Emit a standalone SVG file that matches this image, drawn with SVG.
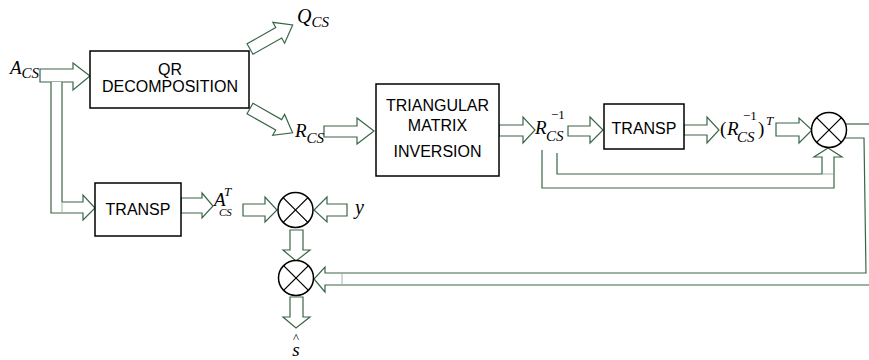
<svg xmlns="http://www.w3.org/2000/svg" width="869" height="360" viewBox="0 0 869 360">
<style>
.arr{fill:#fff;stroke:#3a6547;stroke-width:1.2;stroke-linejoin:miter}
.ln{fill:none;stroke:#3a6547;stroke-width:1.2}
.jt{stroke:#c3d2c6;stroke-width:1.6}
.box{fill:#fff;stroke:#000;stroke-width:1.5}
.mul{fill:#fff;stroke:#000;stroke-width:1.5}
.x{stroke:#000;stroke-width:1.3}
.lbl{font-family:"Liberation Sans",Arial,sans-serif;font-size:16px;text-anchor:middle;fill:#000}
.m{font-family:"Liberation Serif","Times New Roman",serif;font-style:italic;fill:#000}
.n{font-family:"Liberation Serif","Times New Roman",serif;fill:#000}
</style>
<rect width="869" height="360" fill="#fff"/>
<g id="connectors">
  <path class="arr" d="M40,69 L73,69 L73,63 L90,76 L73,90 L73,82 L40,82 Z"/>
  <path class="arr" d="M62,82 L62,202 L83,202 L83,195 L95,208 L83,220 L83,213 L51,213 L51,82"/>
  <line class="jt" x1="62" y1="203" x2="62" y2="212"/>
  <path class="arr" transform="translate(250,49) rotate(-29.5)" d="M0,-6 L33,-6 L33,-12 L49,0 L33,12 L33,6 L0,6 Z"/>
  <path class="arr" transform="translate(250,108.5) rotate(29.7)" d="M0,-6 L33,-6 L33,-12 L49,0 L33,12 L33,6 L0,6 Z"/>
  <path class="arr" d="M324,126 L357,126 L357,118 L374,131 L357,144 L357,137 L324,137 Z"/>
  <path class="arr" d="M499,125 L523,125 L523,117 L535,130 L523,143 L523,136 L499,136 Z"/>
  <path class="arr" d="M568,126 L590,126 L590,117 L603,130 L590,143 L590,136 L568,136 Z"/>
  <path class="arr" d="M684,125 L707,125 L707,117 L719,130 L707,143 L707,135 L684,135 Z"/>
  <path class="arr" d="M776,123 L799,123 L799,118 L812,130 L799,143 L799,136 L776,136 Z"/>
  <path class="arr" d="M557,153 L557,174 L822,174 L822,157 L814,157 L828,148 L842,157 L834,157 L834,188 L542,188 L542,150"/>
  <line class="jt" x1="823" y1="174" x2="833" y2="174"/>
  <line class="ln" x1="846" y1="124" x2="869" y2="124"/>
  <path class="arr" d="M869,285 L325,285 L325,292 L314,279 L325,267 L325,273 L866,273 L864,138 L843,138"/>
  <line class="jt" x1="342" y1="274" x2="342" y2="284"/>
  <path class="arr" d="M181,198 L202,198 L202,193 L213,206 L202,218 L202,213 L181,213 Z"/>
  <path class="arr" d="M243,204 L265,204 L265,197 L277,210 L265,222 L265,216 L243,216 Z"/>
  <path class="arr" d="M347,204 L327,204 L327,197 L314,210 L327,222 L327,216 L347,216 Z"/>
  <path class="arr" d="M290,230 L303,230 L303,250 L310,250 L296,261 L283,250 L290,250 Z"/>
  <path class="arr" d="M290,297 L303,297 L303,317 L310,317 L296,328 L283,317 L290,317 Z"/>
</g>
<g id="qr">
  <rect class="box" x="90" y="51" width="159" height="57"/>
  <text class="lbl" x="170" y="75">QR</text>
  <text class="lbl" x="170" y="92">DECOMPOSITION</text>
</g>
<g id="tri">
  <rect class="box" x="376" y="84" width="123" height="92"/>
  <text class="lbl" x="437.5" y="111">TRIANGULAR</text>
  <text class="lbl" x="437.5" y="131">MATRIX</text>
  <text class="lbl" x="437.5" y="157">INVERSION</text>
</g>
<g id="transp1">
  <rect class="box" x="604" y="104" width="80" height="45"/>
  <text class="lbl" x="644" y="134">TRANSP</text>
</g>
<g id="transp2">
  <rect class="box" x="95" y="183" width="86" height="53"/>
  <text class="lbl" x="138" y="215">TRANSP</text>
</g>
<g id="mul1">
  <circle class="mul" cx="829" cy="130" r="17.5"/>
  <line class="x" x1="816.6" y1="117.6" x2="841.4" y2="142.4"/>
  <line class="x" x1="841.4" y1="117.6" x2="816.6" y2="142.4"/>
</g>
<g id="mul2">
  <circle class="mul" cx="295.5" cy="210" r="17.5"/>
  <line class="x" x1="283.1" y1="197.6" x2="307.9" y2="222.4"/>
  <line class="x" x1="307.9" y1="197.6" x2="283.1" y2="222.4"/>
</g>
<g id="mul3">
  <circle class="mul" cx="296" cy="278" r="17.5"/>
  <line class="x" x1="283.6" y1="265.6" x2="308.4" y2="290.4"/>
  <line class="x" x1="308.4" y1="265.6" x2="283.6" y2="290.4"/>
</g>
<g id="labels">
  <text class="m" x="10" y="74" font-size="19">A<tspan font-size="15" dy="4">CS</tspan></text>
  <text class="m" x="297" y="23" font-size="20">Q<tspan font-size="15" dy="4">CS</tspan></text>
  <text class="m" x="295" y="137" font-size="19">R<tspan font-size="15" dy="6">CS</tspan></text>
  <text class="m" x="535" y="134" font-size="19">R</text>
  <text class="m" x="546" y="141" font-size="15">CS</text>
  <text class="n" x="551" y="119" font-size="13">−1</text>
  <text class="n" x="720" y="135" font-size="19">(</text>
  <text class="m" x="727" y="135" font-size="19">R</text>
  <text class="m" x="737" y="142" font-size="15">CS</text>
  <text class="n" x="743" y="120" font-size="13">−1</text>
  <text class="n" x="758" y="135" font-size="19">)</text>
  <text class="m" x="766" y="125" font-size="13">T</text>
  <text class="m" x="214" y="206" font-size="19">A</text>
  <text class="m" x="224" y="196" font-size="13">T</text>
  <text class="m" x="219" y="216" font-size="11">CS</text>
  <text class="m" x="355" y="214" font-size="20">y</text>
  <text class="n" x="296" y="342" font-size="13" text-anchor="middle">^</text>
  <text class="m" x="296" y="356" font-size="19" text-anchor="middle">s</text>
</g>
</svg>
